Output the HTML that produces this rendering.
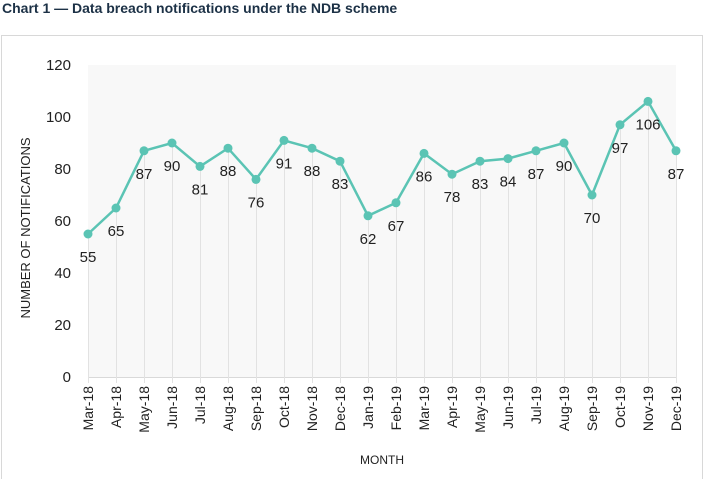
<!DOCTYPE html><html><head><style>body{margin:0;background:#fff;width:705px;height:479px;overflow:hidden;font-family:"Liberation Sans",sans-serif}</style></head><body>
<svg width="705" height="479" xmlns="http://www.w3.org/2000/svg" font-family="Liberation Sans, sans-serif">
<text x="2" y="13" font-size="14" font-weight="bold" fill="#1c3146">Chart 1 — Data breach notifications under the NDB scheme</text>
<rect x="1.5" y="35.5" width="701" height="445" fill="none" stroke="#d8d8d8"/>
<rect x="88" y="65" width="588" height="312" fill="#f8f8f8"/>
<g id="g" stroke="#e2e2e2" stroke-width="1"></g>
<line x1="88" y1="377.5" x2="676" y2="377.5" stroke="#d9d9d9"/>
<g font-size="15" fill="#222" text-anchor="end">
<text x="71" y="70">120</text><text x="71" y="122">100</text><text x="71" y="174">80</text><text x="71" y="226">60</text><text x="71" y="278">40</text><text x="71" y="330">20</text><text x="71" y="382">0</text></g>
<text transform="translate(30,228) rotate(-90)" font-size="13" text-anchor="middle" fill="#222">NUMBER OF NOTIFICATIONS</text>
<text x="382" y="464" font-size="12" text-anchor="middle" fill="#222">MONTH</text>
<g id="d"></g>
</svg>
<script>
var v=[55,65,87,90,81,88,76,91,88,83,62,67,86,78,83,84,87,90,70,97,106,87];
var m=["Mar-18","Apr-18","May-18","Jun-18","Jul-18","Aug-18","Sep-18","Oct-18","Nov-18","Dec-18","Jan-19","Feb-19","Mar-19","Apr-19","May-19","Jun-19","Jul-19","Aug-19","Sep-19","Oct-19","Nov-19","Dec-19"];
var s="",p="",ns="http://www.w3.org/2000/svg";
for(var i=0;i<22;i++){var x=88+i*28,y=377-v[i]*2.6;
s+='<line x1="'+(x+.5)+'" y1="'+y+'" x2="'+(x+.5)+'" y2="383" stroke="#e2e2e2"/>';
p+=(i?'L':'M')+x+' '+y;
s+='<text transform="translate('+(x+5)+',386) rotate(-90)" font-size="14" text-anchor="end" fill="#222">'+m[i]+'</text>';}
s+='<path d="'+p+'" fill="none" stroke="#5bc4b4" stroke-width="2.5"/>';
for(var i=0;i<22;i++){var x=88+i*28,y=377-v[i]*2.6;
s+='<circle cx="'+x+'" cy="'+y+'" r="4.5" fill="#5bc4b4"/>';
s+='<text x="'+x+'" y="'+(y+28)+'" font-size="15" text-anchor="middle" fill="#222">'+v[i]+'</text>';}
document.getElementById('d').innerHTML=s;
</script>
</body></html>
